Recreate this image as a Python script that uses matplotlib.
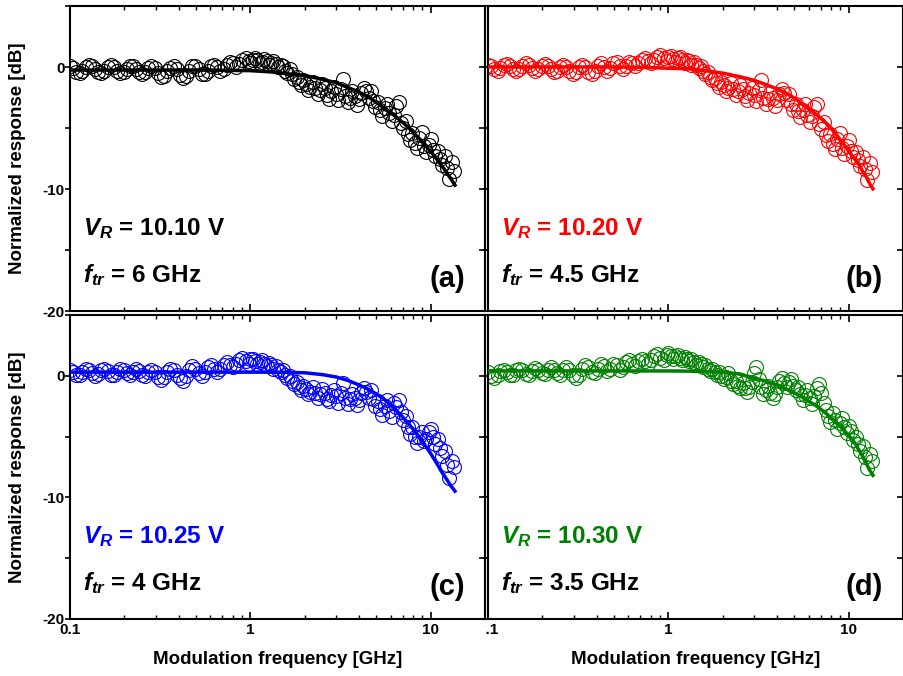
import matplotlib
matplotlib.use("Agg")
import matplotlib.pyplot as plt
from matplotlib.ticker import FixedLocator, FixedFormatter, NullFormatter
from matplotlib.transforms import Bbox, TransformedBbox

plt.rcParams['font.family'] = ['Liberation Sans', 'DejaVu Sans']
plt.rcParams['font.weight'] = 'bold'
plt.rcParams['mathtext.fontset'] = 'custom'
plt.rcParams['mathtext.rm'] = 'Liberation Sans:bold'
plt.rcParams['mathtext.it'] = 'Liberation Sans:italic:bold'
plt.rcParams['mathtext.bf'] = 'Liberation Sans:bold'

# Measured modulation frequencies [GHz]
FREQ_GHZ = [
    0.100, 0.104, 0.108, 0.113, 0.117, 0.122, 0.127, 0.132, 0.138, 0.143,
    0.149, 0.155, 0.162, 0.168, 0.175, 0.182, 0.190, 0.198, 0.206, 0.214,
    0.223, 0.232, 0.241, 0.251, 0.262, 0.272, 0.283, 0.295, 0.307, 0.320,
    0.333, 0.346, 0.360, 0.375, 0.390, 0.406, 0.423, 0.440, 0.458, 0.477,
    0.496, 0.516, 0.537, 0.559, 0.582, 0.606, 0.631, 0.656, 0.683, 0.711,
    0.740, 0.770, 0.802, 0.835, 0.869, 0.904, 0.941, 0.980, 1.00, 1.03,
    1.06, 1.09, 1.13, 1.16, 1.19, 1.23, 1.27, 1.30, 1.34, 1.38,
    1.43, 1.47, 1.51, 1.56, 1.60, 1.65, 1.70, 1.75, 1.81, 1.86,
    1.92, 1.97, 2.03, 2.09, 2.15, 2.22, 2.29, 2.36, 2.43, 2.50,
    2.58, 2.65, 2.73, 2.81, 2.90, 2.99, 3.07, 3.17, 3.26, 3.36,
    3.46, 3.56, 3.67, 3.78, 3.90, 4.01, 4.13, 4.26, 4.38, 4.52,
    4.65, 4.79, 4.93, 5.08, 5.24, 5.39, 5.55, 5.72, 5.89, 6.07,
    6.25, 6.44, 6.63, 6.83, 7.03, 7.25, 7.46, 7.69, 7.92, 8.15,
    8.40, 8.65, 8.91, 9.18, 9.45, 9.74, 10.0, 10.3, 10.6, 11.0,
    11.3, 11.6, 12.0, 12.3, 12.7, 13.1, 13.5,
]

# Normalized response [dB], V_R = 10.10 V
RESP_A = [
    0.1, -0.1, -0.4, -0.5, -0.3, 0.0, 0.2, 0.1, -0.2, -0.45,
    -0.5, -0.3, 0.0, 0.15, 0.0, -0.3, -0.5, -0.45, -0.2, 0.05,
    0.1, -0.15, -0.45, -0.6, -0.4, -0.1, 0.05, -0.1, -0.5, -0.8,
    -0.7, -0.35, -0.05, 0.1, -0.2, -0.65, -0.9, -0.7, -0.3, 0.05,
    0.1, -0.2, -0.55, -0.6, -0.3, 0.1, 0.2, 0.0, -0.3, -0.2,
    0.2, 0.45, 0.3, 0.0, 0.25, 0.6, 0.75, 0.5, 0.3, 0.55,
    0.7, 0.6, 0.3, 0.45, 0.65, 0.5, 0.2, 0.35, 0.5, 0.25,
    0.0, 0.2, 0.1, -0.3, -0.5, -0.2, -0.6, -1.0, -0.8, -1.2,
    -1.5, -1.1, -1.4, -1.9, -1.6, -1.2, -1.7, -2.2, -1.9, -1.4,
    -1.7, -2.3, -2.6, -2.0, -1.6, -2.2, -2.7, -1.8, -1.0, -2.4,
    -2.9, -2.5, -2.0, -2.4, -3.1, -2.6, -2.1, -1.7, -2.0, -2.5,
    -2.0, -2.8, -3.3, -2.9, -3.5, -4.0, -3.4, -3.0, -3.8, -4.4,
    -3.9, -3.2, -2.9, -4.6, -5.0, -4.4, -5.5, -6.0, -5.4, -6.2,
    -6.6, -5.8, -5.3, -6.5, -7.0, -6.4, -5.9, -6.8, -7.3, -6.9,
    -7.5, -8.0, -7.3, -8.3, -9.2, -7.8, -8.5,
]

# Normalized response [dB], V_R = 10.20 V
RESP_B = [
    0.2, 0.1, -0.2, -0.3, -0.1, 0.15, 0.25, 0.1, -0.2, -0.3,
    -0.15, 0.1, 0.3, 0.2, -0.1, -0.3, -0.2, 0.1, 0.25, 0.1,
    -0.2, -0.4, -0.3, 0.0, 0.2, 0.0, -0.3, -0.6, -0.4, 0.0,
    0.2, 0.0, -0.4, -0.6, -0.3, 0.1, 0.3, 0.0, -0.35, -0.1,
    0.3, 0.4, 0.1, -0.2, 0.1, 0.45, 0.3, 0.05, 0.3, 0.55,
    0.7, 0.5, 0.35, 0.6, 0.85, 0.95, 0.7, 0.5, 0.8, 0.9,
    0.65, 0.45, 0.7, 0.8, 0.55, 0.35, 0.6, 0.5, 0.2, 0.4,
    0.15, -0.1, 0.05, -0.3, -0.6, -0.4, -0.8, -1.1, -0.9, -1.3,
    -1.6, -1.2, -1.5, -2.0, -1.7, -1.3, -1.8, -2.3, -2.0, -1.5,
    -1.8, -2.4, -2.7, -2.1, -1.7, -2.3, -2.8, -1.9, -1.1, -2.5,
    -3.0, -2.6, -2.1, -2.5, -3.2, -2.7, -2.2, -1.8, -2.1, -2.7,
    -2.2, -3.0, -3.5, -3.0, -3.6, -4.1, -3.5, -3.0, -3.9, -4.5,
    -4.0, -3.3, -3.0, -4.7, -5.1, -4.5, -5.6, -6.1, -5.5, -6.3,
    -6.7, -5.9, -5.4, -6.6, -7.1, -6.5, -6.0, -6.9, -7.4, -7.0,
    -7.6, -8.1, -7.4, -8.4, -9.3, -7.9, -8.6,
]

# Normalized response [dB], V_R = 10.25 V
RESP_C = [
    0.5, 0.3, 0.1, 0.05, 0.3, 0.55, 0.45, 0.2, 0.0, 0.15,
    0.45, 0.6, 0.4, 0.1, 0.05, 0.35, 0.6, 0.5, 0.2, 0.05,
    0.3, 0.55, 0.4, 0.1, 0.0, 0.35, 0.5, 0.3, -0.1, -0.35,
    -0.1, 0.3, 0.6, 0.5, 0.1, -0.2, -0.4, 0.0, 0.5, 0.8,
    0.6, 0.2, 0.0, 0.3, 0.7, 0.85, 0.6, 0.35, 0.6, 0.9,
    1.1, 0.85, 0.7, 1.0, 1.3, 1.45, 1.2, 0.95, 1.35, 1.4,
    1.2, 0.95, 1.1, 1.3, 1.0, 0.8, 1.05, 0.9, 0.6, 0.8,
    0.5, 0.3, 0.45, 0.1, -0.2, 0.0, -0.4, -0.7, -0.5, -0.9,
    -1.2, -0.8, -1.1, -1.5, -1.3, -0.9, -1.4, -1.8, -1.5, -1.1,
    -1.4, -1.9, -2.1, -1.6, -1.2, -1.7, -2.2, -1.4, -0.6, -1.8,
    -2.3, -1.9, -1.5, -1.8, -2.4, -2.0, -1.4, -1.0, -1.3, -1.8,
    -1.2, -1.9, -2.5, -2.1, -2.7, -3.2, -2.5, -2.0, -2.9, -3.4,
    -2.2, -2.6, -2.0, -3.0, -3.6, -3.3, -4.2, -4.8, -4.2, -5.0,
    -5.5, -5.0, -4.6, -5.4, -5.2, -4.6, -4.4, -5.0, -5.6, -5.2,
    -5.9, -6.6, -6.2, -7.3, -8.4, -7.0, -7.5,
]

# Normalized response [dB], V_R = 10.30 V
RESP_D = [
    0.3, 0.0, -0.15, 0.1, 0.4, 0.5, 0.3, 0.05, 0.1, 0.45,
    0.6, 0.45, 0.15, 0.1, 0.4, 0.65, 0.5, 0.2, 0.15, 0.5,
    0.7, 0.5, 0.2, 0.1, 0.45, 0.7, 0.5, 0.1, -0.2, 0.1,
    0.6, 0.9, 0.7, 0.3, 0.2, 0.6, 0.95, 0.8, 0.4, 0.6,
    1.0, 0.85, 0.5, 0.7, 1.1, 1.3, 1.0, 0.8, 1.2, 1.4,
    1.2, 1.0, 1.3, 1.6, 1.8, 1.5, 1.3, 1.7, 1.85, 1.6,
    1.4, 1.6, 1.75, 1.5, 1.3, 1.55, 1.4, 1.2, 1.35, 1.1,
    0.9, 1.1, 0.95, 0.7, 0.9, 0.6, 0.4, 0.6, 0.3, 0.1,
    0.3, 0.0, -0.3, -0.1, 0.2, -0.4, -0.7, -0.4, -0.8, -1.0,
    -0.6, -1.0, -1.3, -0.9, -0.5, 0.2, 0.7, -0.3, -0.9, -1.5,
    -1.2, -0.8, -1.4, -1.8, -1.5, -0.9, -0.4, -0.2, -0.6, -0.9,
    -0.5, -0.3, -0.8, -1.2, -0.9, -1.5, -2.0, -1.6, -1.2, -1.8,
    -2.3, -1.7, -1.0, -0.7, -1.4, -2.2, -2.8, -3.3, -3.8, -3.1,
    -3.6, -4.4, -3.9, -3.5, -4.2, -4.7, -4.1, -4.5, -5.3, -5.0,
    -5.6, -6.2, -5.8, -6.7, -7.6, -6.4, -7.0,
]

# Fitted small-signal response curves
FIT_FREQ = [0.1, 0.2, 0.3, 0.5, 0.7, 1.0, 1.3, 1.6, 2.0, 2.5, 3.0, 3.5,
            4.0, 4.5, 5.0, 5.5, 6.0, 6.5, 7.0, 7.5, 8.0, 8.5, 9.0, 9.5,
            10.0, 10.5, 11.0, 11.5, 12.0, 12.5, 13.0, 13.5, 13.8]
FIT_A = [-0.25, -0.25, -0.25, -0.25, -0.27, -0.3, -0.4, -0.55, -0.7, -1.0,
         -1.3, -1.7, -2.05, -2.45, -2.9, -3.35, -3.75, -4.15, -4.55, -4.95,
         -5.35, -5.75, -6.15, -6.55, -6.95, -7.3, -7.7, -8.1, -8.45, -8.85,
         -9.2, -9.6, -9.8]
FIT_B = [0.0, 0.0, 0.0, 0.0, -0.02, -0.1, -0.15, -0.3, -0.5, -0.8,
         -1.1, -1.45, -1.8, -2.15, -2.55, -3.0, -3.4, -3.8, -4.2, -4.6,
         -5.0, -5.5, -6.0, -6.45, -6.9, -7.3, -7.7, -8.1, -8.6, -9.0,
         -9.5, -9.9, -10.1]
FIT_C = [0.3, 0.3, 0.3, 0.3, 0.3, 0.3, 0.3, 0.28, 0.25, 0.1,
         -0.1, -0.4, -0.75, -1.1, -1.5, -1.9, -2.4, -2.9, -3.4, -3.9,
         -4.4, -4.9, -5.4, -5.9, -6.4, -6.9, -7.4, -7.9, -8.3, -8.7,
         -9.1, -9.4, -9.6]
FIT_D = [0.4, 0.4, 0.4, 0.4, 0.4, 0.4, 0.38, 0.35, 0.3, 0.15,
         -0.2, -0.45, -0.75, -1.1, -1.4, -1.75, -2.1, -2.4, -2.75, -3.1,
         -3.45, -3.85, -4.2, -4.55, -4.9, -5.25, -5.7, -6.2, -6.7, -7.2,
         -7.7, -8.1, -8.3]

BIAS_V = ['10.10', '10.20', '10.25', '10.30']
F_TR = ['6', '4.5', '4', '3.5']
TAGS = ['(a)', '(b)', '(c)', '(d)']
COLORS = ['black', '#ff0000', '#0000ff', '#008000']

X_TICKS = [0.1, 1, 10]
X_TICK_LABELS = ['0.1', '1', '10']
Y_TICKS = [-20, -15, -10, -5, 0, 5]
Y_TICK_LABELS = ['-20', '', '-10', '', '0', '']

W, H = 904, 676
fig = plt.figure(figsize=(W / 100, H / 100), dpi=100)


def axes_px(left, top, width, height):
    return fig.add_axes([left / W, 1 - (top + height) / H, width / W, height / H])


axes = [axes_px(70, 6, 415, 305), axes_px(488, 6, 415, 305),
        axes_px(70, 315, 415, 304), axes_px(488, 315, 415, 304)]
responses = [RESP_A, RESP_B, RESP_C, RESP_D]
fits = [FIT_A, FIT_B, FIT_C, FIT_D]
minor_x = [k * 10.0 ** e for e in (-1, 0, 1) for k in range(2, 10) if k * 10.0 ** e < 20]

for i, ax in enumerate(axes):
    col = COLORS[i]
    ax.plot(FREQ_GHZ, responses[i], ls='none', marker='o', ms=10,
            mfc='none', mec=col, mew=0.8, zorder=2)
    ax.plot(FIT_FREQ, fits[i], color=col, lw=2.5, zorder=3,
            solid_capstyle='butt')

    ax.set_xscale('log')
    ax.set_xlim(0.1, 20)
    ax.set_ylim(-20, 5)
    for s in ax.spines.values():
        s.set_linewidth(1.5)

    ax.xaxis.set_major_locator(FixedLocator(X_TICKS))
    ax.xaxis.set_minor_locator(FixedLocator(minor_x))
    ax.xaxis.set_minor_formatter(NullFormatter())
    ax.yaxis.set_major_locator(FixedLocator(Y_TICKS))
    if i >= 2:
        ax.xaxis.set_major_formatter(FixedFormatter(X_TICK_LABELS))
    else:
        ax.xaxis.set_major_formatter(NullFormatter())
    if i % 2 == 0:
        ax.yaxis.set_major_formatter(FixedFormatter(Y_TICK_LABELS))
    else:
        ax.yaxis.set_major_formatter(NullFormatter())

    ax.tick_params(axis='x', which='major', direction='in', top=True,
                   bottom=True, length=5, width=1.2, labelsize=11, pad=3)
    ax.tick_params(axis='x', which='minor', direction='in', top=True,
                   bottom=True, length=3, width=1.0)
    ax.tick_params(axis='y', which='major', direction='out', left=True,
                   right=False, length=3.5, width=1.2, labelsize=11, pad=0.3)

    sec = ax.secondary_yaxis('right')
    sec.set_yticks([-15, -10, -5, 0])
    sec.tick_params(axis='y', direction='in', length=4, width=1.2,
                    labelright=False)
    sec.spines['right'].set_linewidth(1.5)

    ax.text(0.031, 0.25, rf'$V_R$ = {BIAS_V[i]} V', transform=ax.transAxes,
            color=col, fontsize=17.5, fontweight='bold', va='baseline')
    ax.text(0.031, 0.095, rf'$f_{{tr}}$ = {F_TR[i]} GHz', transform=ax.transAxes,
            color='black', fontsize=17.5, fontweight='bold', va='baseline')
    ax.text(0.952, 0.08, TAGS[i], transform=ax.transAxes, ha='right',
            va='baseline', fontsize=21, fontweight='bold')

for yc in (158.5, 467):
    fig.text(18 / W, 1 - yc / H, 'Normalized response [dB]', rotation=90,
             ha='center', va='center', fontsize=13.5, fontweight='bold')
for xc in (277.5, 695.5):
    fig.text(xc / W, 1 - 660 / H, 'Modulation frequency [GHz]',
             ha='center', va='center', fontsize=13.5, fontweight='bold')

# the lower-right panel's first tick label is cut at the neighbouring frame
clip = TransformedBbox(Bbox([[486 / W, 0], [1, 1]]), fig.transFigure)
for lab in axes[3].get_xticklabels():
    lab.set_clip_box(clip)
    lab.set_clip_on(True)

fig.savefig('out.png', dpi=100)
